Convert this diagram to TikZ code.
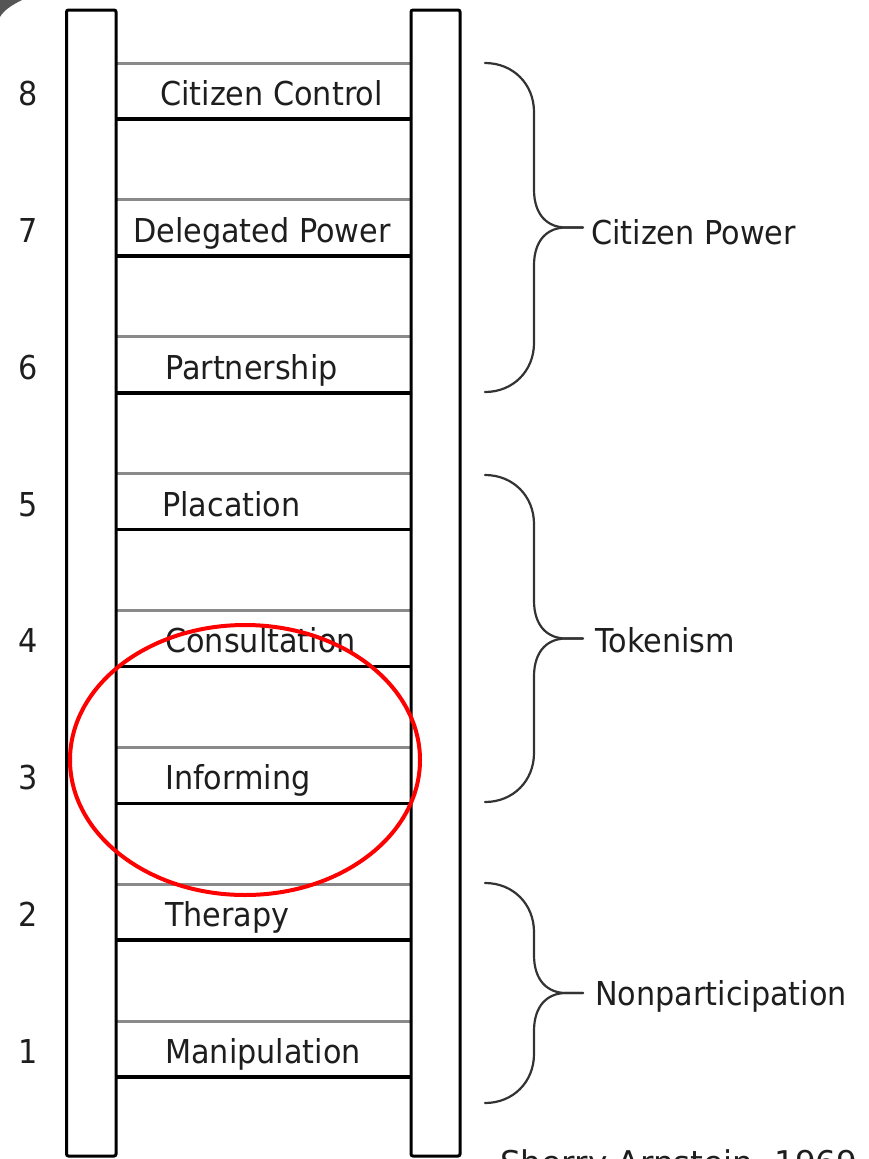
\documentclass[tikz,border=0pt]{standalone}
\usepackage{fontspec}
\setmainfont{DejaVu Sans}[FakeStretch=0.92]
\newfontfamily\srcfont{DejaVu Sans}
\definecolor{txt}{HTML}{1E1E1E}
\definecolor{rungtopc}{HTML}{8A8A8A}
\definecolor{bracec}{HTML}{333333}
\definecolor{cornerc}{HTML}{555555}
\newcommand\arnbrace[4]{%
  \coordinate (#1t) at (485,#2);
  \coordinate (#1m) at (583,#3);
  \coordinate (#1b) at (485,#4);
  \draw[bracestyle] (#1t) .. controls (513,#2) and (534,#2+21) .. (534,#2+49)
    -- (534,#3-38) .. controls (534,#3-12) and (548,#3) .. (566,#3) -- (#1m);
  \draw[bracestyle] (#1m) -- (566,#3) .. controls (548,#3) and (534,#3+12) .. (534,#3+38)
    -- (534,#4-49) .. controls (534,#4-21) and (513,#4) .. (#1b);
}
\begin{document}
\begin{tikzpicture}[x=1pt,y=-1pt,
  lbl/.style={inner sep=0pt, text=txt, font=\fontsize{32.9}{38}\selectfont},
  rail/.style={draw=black, line width=3pt, fill=white, rounded corners=2pt},
  rungtop/.style={draw=rungtopc, line width=3pt},
  rungbot/.style={draw=black, line width=3.6pt},
  bracestyle/.style={draw=bracec, line width=2.2pt, line cap=round},
  ring/.style={draw=red, line width=4pt}]
\clip (0,0) rectangle (868,1159);
\fill[white] (0,0) rectangle (868,1159);
\fill[cornerc] (0,0) -- (22,0) .. controls (12,5) and (4,10) .. (0,17) -- cycle;
% rungs
\foreach \i in {0,...,7}{
  \pgfmathsetmacro\t{63+\i*136.86}
  \draw[rungtop] (116,\t) -- (411,\t);
  \draw[rungbot] (116,\t+56) -- (411,\t+56);
}
% rails
\draw[rail] (66.5,10) rectangle (116,1156);
\draw[rail] (411,10) rectangle (460,1156);
% rung labels and numbers
\foreach \n/\name/\lx/\txt in {8/r8/160/Citizen Control,7/r7/133/Delegated Power,6/r6/165/Partnership,5/r5/162/Placation,4/r4/165/Consultation,3/r3/165/Informing,2/r2/165/Therapy,1/r1/165/Manipulation}{
  \pgfmathsetmacro\bl{63+(8-\n)*136.86+42.5}
  \node[lbl, anchor=base west] (\name) at (\lx,\bl) {\txt};
  \node[lbl, anchor=base] (n\n) at (28,\bl) {\n};
}
% braces
\arnbrace{cpb}{63}{227.5}{392}
\arnbrace{tkb}{475}{638.5}{802}
\arnbrace{npb}{883}{993}{1103}
\node[lbl, anchor=base west] (cp) at (591,244) {Citizen Power};
\node[lbl, anchor=base west] (tk) at (595,652) {Tokenism};
\node[lbl, anchor=base west] (np) at (595,1005) {Nonparticipation};
% source (cut off by the lower edge, as in the reference)
\node[inner sep=0pt, text=txt, anchor=base west, font=\srcfont\fontsize{32.7}{36}\selectfont] (src) at (500,1174) {Sherry Arnstein, 1969};
% red ellipse
\draw[ring] (245,760) ellipse [x radius=175pt, y radius=135pt];
\end{tikzpicture}
\end{document}
